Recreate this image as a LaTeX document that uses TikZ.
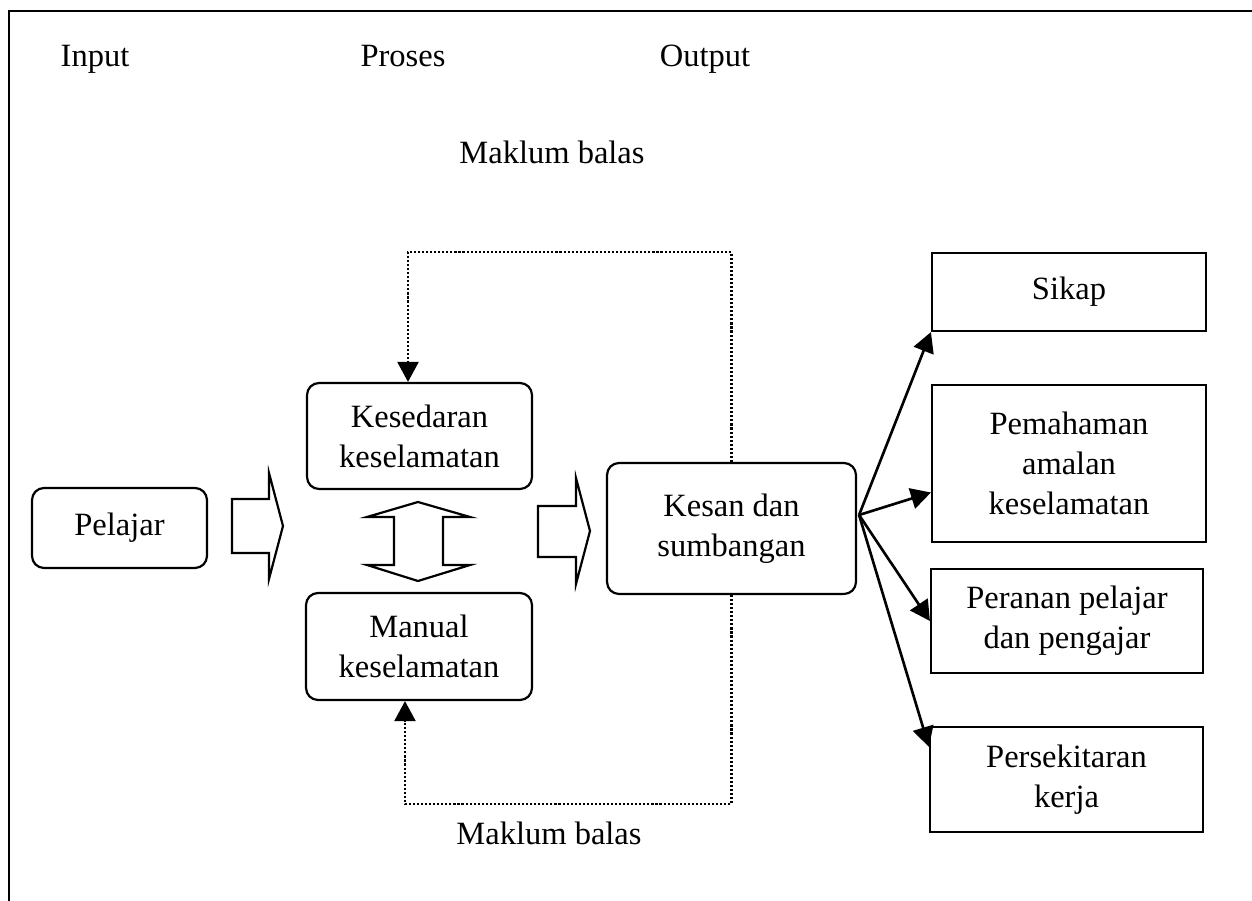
\documentclass[tikz,border=0pt]{standalone}
\usepackage{fontspec}
\setmainfont{Liberation Serif}
\usetikzlibrary{positioning}
\usetikzlibrary{arrows.meta}

\begin{document}
\begin{tikzpicture}[x=0.02cm,y=-0.02cm,
  every node/.style={font=\fontsize{18.5}{22.7}\selectfont},
  rbox/.style={draw,line width=1.25pt,rounded corners=0.24cm,align=center,inner sep=0pt},
  sbox/.style={draw,line width=1.25pt,align=center,inner sep=0pt},
  fback/.style={line width=1.3pt,dash pattern=on 1.2pt off 1.1pt},
  tip/.style={-{Triangle[length=0.4cm,width=0.42cm]}},
  fat/.style={line width=1.25pt,line join=miter}]
\useasboundingbox (0,0) rectangle (1252,901);
% frame
\draw[line width=1.25pt] (1252,11) -- (9,11) -- (9,901);

% headings
\node[anchor=base] (input) at (95,67) {Input};
\node[anchor=base] (proses) at (403,67) {Proses};
\node[anchor=base] (output) at (705,67) {Output};
\node[anchor=base] (mbtop) at (552,164) {Maklum balas};
\node[anchor=base] (mbbot) at (549,845) {Maklum balas};

% input and process
\node[rbox,minimum width=3.5cm,minimum height=1.6cm] (pelajar) at (119.5,528) {Pelajar};
\node[rbox,minimum width=4.5cm,minimum height=2.12cm] (kesedaran) at (419.5,436) {Kesedaran\\keselamatan};
\node[rbox,minimum width=4.52cm,minimum height=2.14cm] (manual) at (419,646.5) {Manual\\keselamatan};
\node[rbox,minimum width=4.98cm,minimum height=2.62cm] (kesan) at (731.5,528.5) {Kesan dan\\sumbangan};

% output boxes
\node[sbox,minimum width=5.48cm,minimum height=1.56cm] (sikap) at (1069,292) {Sikap};
\node[sbox,minimum width=5.48cm,minimum height=3.14cm] (pemahaman) at (1069,463.5) {Pemahaman\\amalan\\keselamatan};
\node[sbox,minimum width=5.44cm,minimum height=2.08cm] (peranan) at (1067,621) {Peranan pelajar\\dan pengajar};
\node[sbox,minimum width=5.46cm,minimum height=2.1cm] (persekitaran) at (1066.5,779.5) {Persekitaran\\kerja};

% block arrows
\draw[fat] (232,499) -- (269,499) -- (269,473) -- (283,526) -- (269,579) -- (269,553) -- (232,553) -- cycle;
\draw[fat] (538,506) -- (576,506) -- (576,478) -- (590,531) -- (576,584) -- (576,557) -- (538,557) -- cycle;
\draw[fat] (418,502) -- (470,517) -- (443,517) -- (443,565) -- (470,565) -- (418,581)
  -- (367,565) -- (394,565) -- (394,517) -- (367,517) -- cycle;

% feedback loops
\coordinate (fbtop) at (408,252);
\coordinate (fbbot) at (405,804);
\draw[fback,tip] (kesan.north) |- (fbtop) -- (fbtop |- kesedaran.north);
\draw[fback,tip] (kesan.south) |- (fbbot) -- (fbbot |- manual.south);

% outputs
\coordinate (hub) at ([xshift=0.04cm,yshift=0.27cm]kesan.east);
\draw[line width=1.5pt,tip] (hub) -- (sikap.south west);
\draw[line width=1.5pt,tip] (hub) -- ([yshift=-0.58cm]pemahaman.west);
\draw[line width=1.5pt,tip] (hub) -- (peranan.west);
\draw[line width=1.5pt,tip] (hub) -- ([yshift=-0.42cm]persekitaran.north west);
\end{tikzpicture}
\end{document}
